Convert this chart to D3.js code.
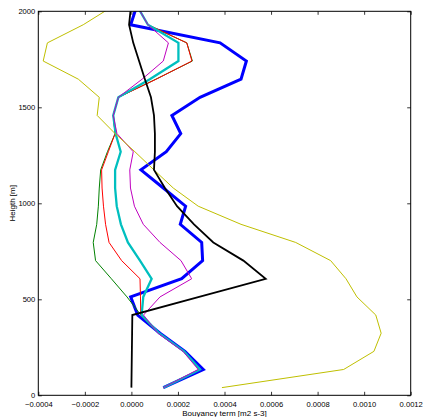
<!DOCTYPE html>
<html>
<head>
<meta charset="utf-8">
<script src="https://d3js.org/d3.v7.min.js"></script>
<style>
  html, body { margin: 0; padding: 0; background: #fff; }
  svg { display: block; }
  text { font-family: "Liberation Sans", Arial, Helvetica, sans-serif; fill: #000; }
</style>
</head>
<body>
<svg id="chart" width="425" height="417"></svg>
<script>
// ---- data ----
const heights = [40, 134.5, 229, 323.5, 418, 512.5, 607, 701.5, 796, 890.5, 985, 1079.5, 1174, 1268.5, 1363, 1457.5, 1552, 1646.5, 1741, 1835.5, 1930, 2024.5];

const blueSeries = [0.000137, 0.000309, 0.000230, 0.000123, 0.000027, -0.000003, 0.000216, 0.000306, 0.000302, 0.000210, 0.000233, 0.000137, 0.000041, 0.000150, 0.000212, 0.000174, 0.000295, 0.000471, 0.000494, 0.000381, -0.000003, 0.000022];
const greenSeries = [0.000138, 0.000293, 0.000224, 0.000117, 0.000041, -0.000019, -0.000086, -0.000154, -0.000164, -0.000149, -0.000142, -0.000138, -0.000132, -0.000103, -0.000070, -0.000078, -0.000056, 0.000105, 0.000262, 0.000238, 0.000071, 0.000026];
const redSeries = [0.000138, 0.000293, 0.000224, 0.000117, 0.000040, 0.000039, 0.000037, -0.000042, -0.000096, -0.000111, -0.000120, -0.000126, -0.000128, -0.000099, -0.000070, -0.000078, -0.000056, 0.000107, 0.000260, 0.000238, 0.000071, 0.000026];
const cyanSeries = [0.000138, 0.000295, 0.000226, 0.000119, 0.000044, 0.000051, 0.000087, 0.000037, -0.000015, -0.000045, -0.000063, -0.000070, -0.000070, -0.000046, -0.000068, -0.000078, -0.000056, 0.000079, 0.000202, 0.000202, 0.000071, 0.000026];
const magentaSeries = [0.000137, 0.000287, 0.000222, 0.000114, 0.000052, 0.000123, 0.000259, 0.000213, 0.000123, 0.000051, 0.000013, -0.000004, -0.000007, 0.000008, -0.000062, -0.000078, -0.000056, 0.000046, 0.000137, 0.000159, 0.000071, 0.000026];
const yellowSeries = [0.000389, 0.000912, 0.001042, 0.001073, 0.001050, 0.000969, 0.000922, 0.000856, 0.000706, 0.000471, 0.000287, 0.000180, 0.000097, 0.000015, -0.000070, -0.000147, -0.000138, -0.000228, -0.000379, -0.000361, -0.000207, -0.000082];
const blackSeries = [0.000000, 0.000001, 0.000002, 0.000003, 0.000004, 0.000291, 0.000577, 0.000481, 0.000352, 0.000269, 0.000196, 0.000144, 0.000097, 0.000101, 0.000101, 0.000097, 0.000084, 0.000058, 0.000033, 0.000008, -0.000010, -0.000002];

const xTickValues = [-0.0004, -0.0002, 0.0000, 0.0002, 0.0004, 0.0006, 0.0008, 0.0010, 0.0012];
const xTickLabels = ["\u22120.0004", "\u22120.0002", "0.0000", "0.0002", "0.0004", "0.0006", "0.0008", "0.0010", "0.0012"];
const yTickValues = [0, 500, 1000, 1500, 2000];
const yTickLabels = ["0", "500", "1000", "1500", "2000"];

const xLabel = "Bouyancy term [m2 s-3]";
const yLabel = "Heigth [m]";

// series in draw order
const seriesList = [
  { values: blueSeries, color: "#0000ff", width: 3.0 },
  { values: greenSeries, color: "#008000", width: 1.0 },
  { values: redSeries, color: "#ff0000", width: 1.0 },
  { values: cyanSeries, color: "#00bfbf", width: 2.3 },
  { values: magentaSeries, color: "#bf00bf", width: 1.0 },
  { values: yellowSeries, color: "#bfbf00", width: 1.0 },
  { values: blackSeries, color: "#000000", width: 1.8 }
];

// ---- layout ----
const mLeft = 38.3, mRight = 410.7, mTop = 11.3, mBottom = 395.3;
const svg = d3.select("#chart");

const x = d3.scaleLinear().domain([-0.0004, 0.0012]).range([mLeft, mRight]);
const y = d3.scaleLinear().domain([0, 2000]).range([mBottom, mTop]);

svg.append("defs").append("clipPath").attr("id", "plotclip")
  .append("rect").attr("x", mLeft).attr("y", mTop)
  .attr("width", mRight - mLeft).attr("height", mBottom - mTop);

const line = d3.line()
  .x(d => x(d[0]))
  .y(d => y(d[1]));

const plot = svg.append("g").attr("clip-path", "url(#plotclip)");
seriesList.forEach(s => {
  plot.append("path")
    .datum(s.values.map((v, i) => [v, heights[i]]))
    .attr("d", line)
    .attr("fill", "none")
    .attr("stroke", s.color)
    .attr("stroke-width", s.width)
    .attr("stroke-linejoin", "miter");
});

// axes: ticks inward on all four sides
const tickLen = 3.5;
const fmtX = (d, i) => xTickLabels[i];
const fmtY = (d, i) => yTickLabels[i];

const bottomAxis = svg.append("g").attr("transform", `translate(0,${mBottom})`)
  .call(d3.axisBottom(x).tickValues(xTickValues).tickFormat(fmtX).tickSizeInner(-tickLen).tickSizeOuter(0).tickPadding(6));
const topAxis = svg.append("g").attr("transform", `translate(0,${mTop})`)
  .call(d3.axisTop(x).tickValues(xTickValues).tickFormat("").tickSizeInner(-tickLen).tickSizeOuter(0));
const leftAxis = svg.append("g").attr("transform", `translate(${mLeft},0)`)
  .call(d3.axisLeft(y).tickValues(yTickValues).tickFormat(fmtY).tickSizeInner(-tickLen).tickSizeOuter(0).tickPadding(3));
const rightAxis = svg.append("g").attr("transform", `translate(${mRight},0)`)
  .call(d3.axisRight(y).tickValues(yTickValues).tickFormat("").tickSizeInner(-tickLen).tickSizeOuter(0));

[bottomAxis, topAxis, leftAxis, rightAxis].forEach(g => {
  g.select(".domain").remove();
  g.selectAll(".tick line").attr("stroke", "#000").attr("stroke-width", 0.8);
  g.selectAll("text").attr("font-size", 7.6).attr("font-family", "'Liberation Sans', Arial, sans-serif").attr("fill", "#000");
});

// frame
svg.append("rect")
  .attr("x", mLeft).attr("y", mTop)
  .attr("width", mRight - mLeft).attr("height", mBottom - mTop)
  .attr("fill", "none").attr("stroke", "#000").attr("stroke-width", 1);

// axis labels
svg.append("text")
  .attr("x", (mLeft + mRight) / 2).attr("y", 415.5)
  .attr("text-anchor", "middle").attr("font-size", 8)
  .text(xLabel);

svg.append("text")
  .attr("transform", `translate(14.5,${(mTop + mBottom) / 2}) rotate(-90)`)
  .attr("text-anchor", "middle").attr("font-size", 8)
  .text(yLabel);
</script>
</body>
</html>
